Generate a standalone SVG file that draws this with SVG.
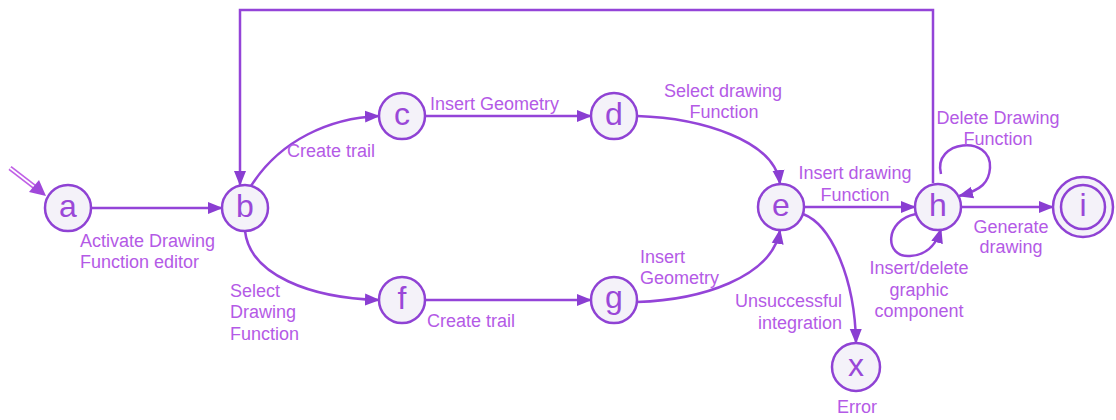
<svg xmlns="http://www.w3.org/2000/svg" width="1116" height="420" viewBox="0 0 1116 420">
<style>
.node circle{fill:#f4f2f9;stroke:#8f42d4;stroke-width:2.5}
.node text{font-family:"Liberation Sans",Arial,sans-serif;font-size:32px;fill:#9a48d8;text-anchor:middle}
.edge{fill:none;stroke:#9444d8;stroke-width:2.5}
.lbl{font-family:"Liberation Sans",Arial,sans-serif;font-size:18px;fill:#b45ae6}
</style>
<defs>
<marker id="arr" markerUnits="userSpaceOnUse" markerWidth="16" markerHeight="14" refX="14" refY="7" orient="auto">
<path d="M0,1 L15,7 L0,13 Z" fill="#8a3ed2"/>
</marker>
</defs>
<rect width="1116" height="420" fill="#ffffff"/>
<g id="connectors">
<line x1="10" y1="168" x2="36" y2="188" stroke="#c060e6" stroke-width="5"/>
<line x1="10" y1="168" x2="36" y2="188" stroke="#ffffff" stroke-width="1.6"/>
<path d="M46,196 L29,192 L39,180 Z" fill="#a048da"/>
<path class="edge" d="M91,208 H222" marker-end="url(#arr)"/>
<path class="edge" d="M933,183 V10 H240 V185" marker-end="url(#arr)"/>
<path class="edge" d="M251,186 C280,140 330,118 379,116" marker-end="url(#arr)"/>
<path class="edge" d="M245,231 C250,275 310,298 379,300" marker-end="url(#arr)"/>
<path class="edge" d="M425,116 H591" marker-end="url(#arr)"/>
<path class="edge" d="M425,300 H591" marker-end="url(#arr)"/>
<path class="edge" d="M637,116 C700,118 775,140 780,184" marker-end="url(#arr)"/>
<path class="edge" d="M637,302 C700,300 772,278 780,230" marker-end="url(#arr)"/>
<path class="edge" d="M804,207 H915" marker-end="url(#arr)"/>
<path class="edge" d="M803,214 C832,225 855,280 856,343" marker-end="url(#arr)"/>
<path class="edge" d="M961,207 H1053" marker-end="url(#arr)"/>
<path class="edge" d="M941,174 C932,140 992,134 990,168 C989,182 982,190 959,196" marker-end="url(#arr)"/>
<path class="edge" d="M916,214 C884,220 884,258 910,256 C926,255 936,246 941,229" marker-end="url(#arr)"/>
</g>
<g id="node-a" class="node"><circle cx="68" cy="208" r="23"/><text x="68" y="217">a</text></g>
<g id="node-b" class="node"><circle cx="245" cy="208" r="23"/><text x="245" y="217">b</text></g>
<g id="node-c" class="node"><circle cx="402" cy="116" r="23"/><text x="402" y="125">c</text></g>
<g id="node-d" class="node"><circle cx="614" cy="116" r="23"/><text x="614" y="125">d</text></g>
<g id="node-e" class="node"><circle cx="781" cy="207" r="23"/><text x="781" y="216">e</text></g>
<g id="node-f" class="node"><circle cx="402" cy="300" r="23"/><text x="402" y="309">f</text></g>
<g id="node-g" class="node"><circle cx="614" cy="300" r="23"/><text x="614" y="308">g</text></g>
<g id="node-h" class="node"><circle cx="938" cy="207" r="23"/><text x="938" y="216">h</text></g>
<g id="node-i" class="node"><circle cx="1083" cy="207" r="30"/><circle cx="1083" cy="207" r="22"/><text x="1083" y="216">i</text></g>
<g id="node-x" class="node"><circle cx="856" cy="367" r="24"/><text x="856" y="376">x</text></g>
<g id="labels">
<text class="lbl" x="80" y="247">Activate Drawing</text>
<text class="lbl" x="80" y="268">Function editor</text>
<text class="lbl" x="287" y="157">Create trail</text>
<text class="lbl" x="430" y="110">Insert Geometry</text>
<text class="lbl" x="230" y="297">Select</text>
<text class="lbl" x="230" y="318">Drawing</text>
<text class="lbl" x="230" y="340">Function</text>
<text class="lbl" x="427" y="327">Create trail</text>
<text class="lbl" x="640" y="263">Insert</text>
<text class="lbl" x="640" y="284">Geometry</text>
<text class="lbl" x="723" y="97" text-anchor="middle">Select drawing</text>
<text class="lbl" x="724" y="118" text-anchor="middle">Function</text>
<text class="lbl" x="855" y="179" text-anchor="middle">Insert drawing</text>
<text class="lbl" x="855" y="201" text-anchor="middle">Function</text>
<text class="lbl" x="998" y="124" text-anchor="middle">Delete Drawing</text>
<text class="lbl" x="998" y="145" text-anchor="middle">Function</text>
<text class="lbl" x="1011" y="233" text-anchor="middle">Generate</text>
<text class="lbl" x="1011" y="253" text-anchor="middle">drawing</text>
<text class="lbl" x="919" y="274" text-anchor="middle">Insert/delete</text>
<text class="lbl" x="919" y="296" text-anchor="middle">graphic</text>
<text class="lbl" x="919" y="317" text-anchor="middle">component</text>
<text class="lbl" x="842" y="307" text-anchor="end">Unsuccessful</text>
<text class="lbl" x="842" y="329" text-anchor="end">integration</text>
<text class="lbl" x="857" y="413" text-anchor="middle">Error</text>
</g>
</svg>
